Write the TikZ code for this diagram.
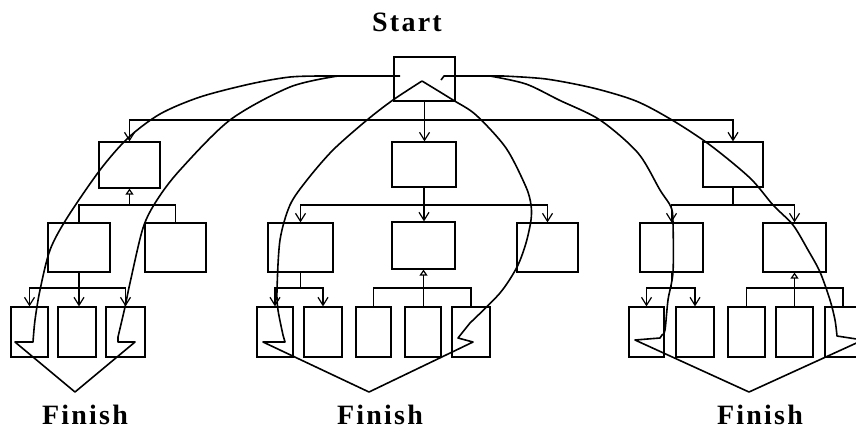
\documentclass[tikz,border=0pt]{standalone}
\usepackage{fontspec}
\setmainfont{Liberation Serif}
\newfontfamily\lblfont[LetterSpace=8]{Liberation Serif Bold}
\usetikzlibrary{arrows.meta}
\tikzset{
  box/.style={draw, line width=1.2pt, inner sep=0pt},
  conn/.style={line width=1.2pt},
  arr/.style={conn, -{Straight Barb[length=8pt,width=10pt]}},
  inh/.style={conn, -{Triangle[open,length=6pt,width=8pt]}},
  curve/.style={line width=1.6pt, line join=round},
  lbl/.style={font=\lblfont\fontsize{28}{28}\selectfont, inner sep=0pt, anchor=base}
}
\newcommand\bx[5]{\node[box, minimum width={(#4-#2)*1pt}, minimum height={(#5-#3)*1pt}] (#1) at ({(#2+#4)/2},{(#3+#5)/2}) {};}
\begin{document}
\begin{tikzpicture}[x=1pt,y=-1pt]
\useasboundingbox (0,0) rectangle (856,432);
\clip (0,0) rectangle (856,432);
% labels
\node[lbl] (start) at (407,31) {Start};
\node[lbl] (fin1) at (85,424) {Finish};
\node[lbl] (fin2) at (380,424) {Finish};
\node[lbl] (fin3) at (760,424) {Finish};
% boxes
\bx{S}{394}{57}{455}{101}
\bx{A}{99}{142}{160}{188}
\bx{B}{392}{142}{456}{187}
\bx{C}{703}{142}{763}{187}
\bx{A2a}{48}{223}{110}{272}
\bx{A2b}{145}{223}{206}{272}
\bx{B2a}{268}{223}{333}{272}
\bx{B2b}{392}{222}{455}{269}
\bx{B2c}{517}{223}{578}{272}
\bx{C2a}{640}{223}{703}{272}
\bx{C2b}{763}{223}{826}{272}
\bx{L3a}{11}{307}{48}{357}
\bx{L3b}{58}{307}{96}{357}
\bx{L3c}{106}{307}{145}{357}
\bx{M3a}{257}{307}{293}{357}
\bx{M3b}{304}{307}{342}{357}
\bx{M3c}{356}{307}{391}{357}
\bx{M3d}{405}{307}{441}{357}
\bx{M3e}{452}{307}{490}{357}
\bx{R3a}{629}{307}{664}{357}
\bx{R3b}{676}{307}{714}{357}
\bx{R3c}{728}{307}{765}{357}
\bx{R3d}{776}{307}{813}{357}
\bx{R3e}{825}{307}{861}{357}
% level 0 -> 1
\draw[conn] (S.south) -- (S.south |- 0,120) coordinate (b0);
\draw[arr] (b0) -| (A.north);
\draw[arr] (b0) -| (C.north);
\draw[arr] (b0) -- (b0 |- B.north);
% A
\coordinate (ba) at (A.south |- 0,205);
\draw[inh] (ba) -- (A.south);
\draw[conn] (ba) -| (A2a.north);
\draw[conn] (ba) -| (A2b.north);
% B
\draw[conn] (B.south) -- (B.south |- 0,205) coordinate (bb);
\draw[arr] (bb) -| (B2a.north);
\draw[arr] (bb) -| (B2c.north);
\draw[arr] (bb) -- (bb |- B2b.north);
% C
\draw[conn] (C.south) -- (C.south |- 0,205) coordinate (bc);
\draw[arr] (bc) -| (C2a.north);
\draw[arr] (bc) -| (C2b.north);
% A2a
\draw[conn] (A2a.south) -- (A2a.south |- 0,288) coordinate (x1);
\draw[arr] (x1) -| (L3a.north);
\draw[arr] (x1) -| (L3c.north);
\draw[arr] (x1) -- (x1 |- L3b.north);
% B2a
\draw[conn] (B2a.south) -- (B2a.south |- 0,288) coordinate (x2);
\draw[arr] (x2) -| (M3a.north);
\draw[arr] (x2) -| (M3b.north);
% B2b
\coordinate (x3) at (B2b.south |- 0,288);
\draw[inh] (x3) -- (B2b.south);
\draw[conn] (x3) -| (M3c.north);
\draw[conn] (x3) -| (M3e.north);
\draw[conn] (x3) -- (x3 |- M3d.north);
% C2a
\draw[conn] (C2a.south) -- (C2a.south |- 0,288) coordinate (x4);
\draw[arr] (x4) -| (R3a.north);
\draw[arr] (x4) -| (R3b.north);
% C2b
\coordinate (x5) at (C2b.south |- 0,288);
\draw[inh] (x5) -- (C2b.south);
\draw[conn] (x5) -| (R3c.north);
\draw[conn] (x5) -| (R3e.north);
\draw[conn] (x5) -- (x5 |- R3d.north);
% big curved arrows
\draw[curve] (400,76) -- plot[smooth] coordinates {(325,76) (290,77) (250,84) (200,97) (160,114) (128,138) (100,170) (67,218) (50,250) (40,290) (35,320) (33,342)}
  -- (15,342) -- (75,392) -- (135,342) -- (118,342)
  -- plot[smooth] coordinates {(118,337) (125,307) (130,283) (143,228) (157,200) (180,170) (230,120) (290,87) (338,76)};
\draw[curve] plot[smooth] coordinates {(422,81) (393,100) (367,120) (333,150) (307,180) (290,205) (280,240) (277,290) (278,310) (283,335)}
  -- (285,342) -- (263,342) -- (369,392) -- (473,342) -- (458,338)
  -- plot[smooth] coordinates {(470,323) (500,293) (517,267) (526,243) (531,220) (531,205) (526,187) (506,148) (476,115) (453,100) (422,81)};
\draw[curve] (441,80) -- (444,76) -- plot[smooth] coordinates {(503,76) (546,79) (593,88) (636,101) (672,120) (710,145) (750,178) (773,205) (793,225) (808,250) (820,272) (830,300) (835,320) (837,336)}
  -- (863,340) -- (749,392) -- (635,340) -- (660,338)
  -- plot[smooth] coordinates {(662,335) (665,330) (668,300) (673,272) (673,223) (671,207) (660,190) (638,153) (600,120) (559,100) (526,84) (490,76)};
\end{tikzpicture}
\end{document}
